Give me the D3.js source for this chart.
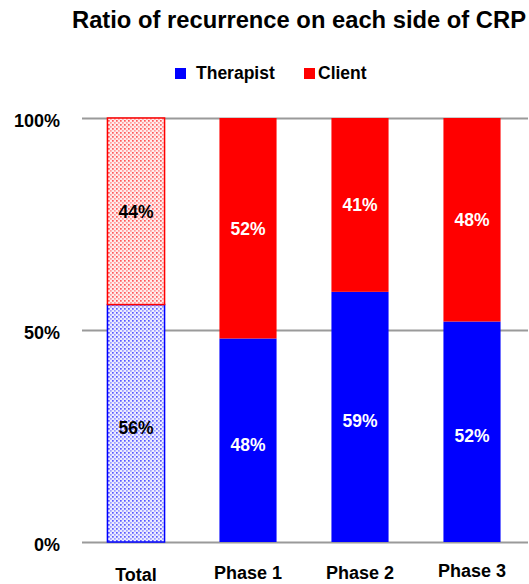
<!DOCTYPE html>
<html>
<head>
<meta charset="utf-8">
<script src="https://cdn.jsdelivr.net/npm/d3@7"></script>
<style>
  html, body { margin: 0; padding: 0; background: #fff; }
  svg { display: block; font-family: "Liberation Sans", Arial, sans-serif; }
</style>
</head>
<body>
<svg id="chart" width="529" height="584"></svg>
<script>
// Recurrence shares per phase (therapist vs client)
const categories = ["Total", "Phase 1", "Phase 2", "Phase 3"];
const therapist = [56, 48, 59, 52];
const client = [44, 52, 41, 48];
const yTicks = [0, 50, 100];
const seriesNames = ["Therapist", "Client"];
const colors = { Therapist: "#0000ff", Client: "#ff0000" };

const svg = d3.select("#chart");

const x = d3.scaleBand()
  .domain(categories)
  .range([80, 528])
  .paddingInner(0.49)
  .paddingOuter(0.245);

const y = d3.scaleLinear().domain([0, 100]).range([542, 118]);

// dotted fills for the Total column
const defs = svg.append("defs");
function dotPattern(id, bg, dot) {
  const p = defs.append("pattern")
    .attr("id", id)
    .attr("patternUnits", "userSpaceOnUse")
    .attr("width", 4).attr("height", 4);
  p.append("rect").attr("width", 4).attr("height", 4).attr("fill", bg);
  p.append("rect").attr("x", 0).attr("y", 0).attr("width", 1.7).attr("height", 1.7).attr("fill", dot);
  p.append("rect").attr("x", 2).attr("y", 2).attr("width", 1.7).attr("height", 1.7).attr("fill", dot).attr("opacity", 0.55);
}
dotPattern("dotBlue", "#ececff", "#5a5aff");
dotPattern("dotRed", "#ffecec", "#ff5a5a");

// title
svg.append("text")
  .attr("x", 72).attr("y", 28)
  .attr("font-size", 23).attr("font-weight", "bold")
  .attr("textLength", 454).attr("lengthAdjust", "spacingAndGlyphs")
  .attr("fill", "#000")
  .text("Ratio of recurrence on each side of CRP");

// legend
const legend = svg.append("g");
const legendPos = [{ sx: 175, tx: 196 }, { sx: 304, tx: 318 }];
seriesNames.forEach((name, i) => {
  legend.append("rect")
    .attr("x", legendPos[i].sx).attr("y", 68)
    .attr("width", 11).attr("height", 11)
    .attr("fill", colors[name]);
  legend.append("text")
    .attr("x", legendPos[i].tx).attr("y", 79)
    .attr("font-size", 17.5).attr("font-weight", "bold")
    .text(name);
});

// gridlines and percentage labels
const yAxis = d3.axisLeft(y)
  .tickValues(yTicks)
  .tickSize(-(528 - 82))
  .tickFormat(d => d + "%")
  .tickPadding(22);
const gy = svg.append("g").attr("transform", "translate(82,0)").call(yAxis);
gy.select(".domain").remove();
gy.selectAll(".tick line").attr("stroke", "#9a9a9a").attr("stroke-width", 2);
gy.selectAll(".tick text")
  .attr("font-size", 18).attr("font-weight", "bold").attr("fill", "#000")
  .attr("font-family", "Liberation Sans, Arial, sans-serif")
  .attr("dy", null).attr("y", 8);

// stacked bars
const rows = categories.map((c, i) => ({ cat: c, t: therapist[i], c: client[i], idx: i }));
const bars = svg.append("g");
const fs = 17.5;
rows.forEach(r => {
  const x0 = x(r.cat), bw = x.bandwidth();
  const isTotal = r.idx === 0;
  // therapist (bottom)
  bars.append("rect")
    .attr("x", x0).attr("y", y(r.t))
    .attr("width", bw).attr("height", y(0) - y(r.t))
    .attr("fill", isTotal ? "url(#dotBlue)" : colors.Therapist)
    .attr("stroke", isTotal ? colors.Therapist : "none")
    .attr("stroke-width", isTotal ? 1.5 : 0);
  // client (top)
  bars.append("rect")
    .attr("x", x0).attr("y", y(r.t + r.c))
    .attr("width", bw).attr("height", y(r.t) - y(r.t + r.c))
    .attr("fill", isTotal ? "url(#dotRed)" : colors.Client)
    .attr("stroke", isTotal ? colors.Client : "none")
    .attr("stroke-width", isTotal ? 1.5 : 0);
  // value labels
  const labelColor = isTotal ? "#000" : "#fff";
  bars.append("text")
    .attr("x", x0 + bw / 2).attr("y", (y(0) + y(r.t)) / 2 + 4 + fs * 0.36)
    .attr("text-anchor", "middle")
    .attr("font-size", fs).attr("font-weight", "bold").attr("fill", labelColor)
    .text(r.t + "%");
  bars.append("text")
    .attr("x", x0 + bw / 2).attr("y", (y(r.t) + y(r.t + r.c)) / 2 + fs * 0.36)
    .attr("text-anchor", "middle")
    .attr("font-size", fs).attr("font-weight", "bold").attr("fill", labelColor)
    .text(r.c + "%");
});

// category labels
const xLabelY = [581, 579, 579, 577];
rows.forEach(r => {
  svg.append("text")
    .attr("x", x(r.cat) + x.bandwidth() / 2).attr("y", xLabelY[r.idx])
    .attr("text-anchor", "middle")
    .attr("font-size", 18).attr("font-weight", "bold")
    .text(r.cat);
});
</script>
</body>
</html>
